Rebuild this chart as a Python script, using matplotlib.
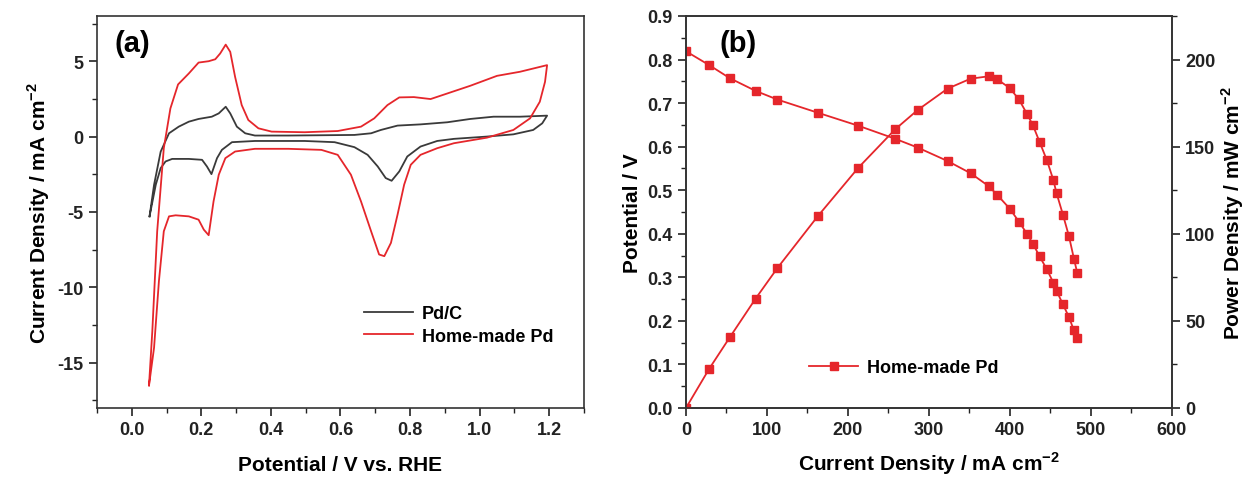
import matplotlib.pyplot as plt
from matplotlib.ticker import MultipleLocator

plt.rcParams['font.family'] = ['Liberation Sans', 'DejaVu Sans']
plt.rcParams['font.weight'] = 'bold'
plt.rcParams['axes.labelweight'] = 'bold'
plt.rcParams['axes.unicode_minus'] = False
plt.rcParams['mathtext.fontset'] = 'custom'
plt.rcParams['mathtext.rm'] = 'Liberation Sans:bold'
plt.rcParams['mathtext.bf'] = 'Liberation Sans:bold'

# (a) CV curves: potential (V vs RHE) and current density (mA cm-2), one full cycle each
pdc_v = [0.051, 0.064, 0.083, 0.107, 0.135, 0.164, 0.192, 0.23, 0.25, 0.27, 0.283, 0.302,
         0.326, 0.354, 0.45, 0.545, 0.64, 0.688, 0.716, 0.764, 0.83, 0.907, 0.973, 1.04,
         1.116, 1.194, 1.18, 1.154, 1.097, 1.02, 0.926, 0.878, 0.83, 0.792, 0.769, 0.747,
         0.73, 0.707, 0.678, 0.64, 0.583, 0.497, 0.354, 0.288, 0.259, 0.245, 0.229, 0.216,
         0.202, 0.164, 0.116, 0.097, 0.083, 0.069, 0.051]
pdc_i = [-5.29, -3.2, -1.0, 0.22, 0.66, 0.99, 1.17, 1.32, 1.54, 1.98, 1.54, 0.66,
         0.22, 0.07, 0.07, 0.09, 0.11, 0.22, 0.44, 0.73, 0.81, 0.95, 1.17, 1.32,
         1.32, 1.39, 0.88, 0.44, 0.15, 0.0, -0.15, -0.29, -0.66, -1.32, -2.31, -2.93,
         -2.75, -1.98, -1.21, -0.70, -0.37, -0.29, -0.29, -0.37, -0.88, -1.43, -2.49, -1.98,
         -1.54, -1.48, -1.48, -1.65, -2.09, -3.19, -5.29]

home_v = [0.0495, 0.059, 0.073, 0.092, 0.111, 0.133, 0.164, 0.192, 0.221, 0.24, 0.254, 0.27,
          0.283, 0.297, 0.316, 0.335, 0.364, 0.402, 0.497, 0.592, 0.659, 0.697, 0.735, 0.769,
          0.811, 0.859, 0.907, 0.973, 1.05, 1.116, 1.194, 1.188, 1.173, 1.145, 1.097, 1.021,
          0.926, 0.878, 0.83, 0.802, 0.783, 0.764, 0.745, 0.726, 0.711, 0.688, 0.659, 0.63,
          0.592, 0.545, 0.45, 0.354, 0.297, 0.269, 0.25, 0.235, 0.221, 0.207, 0.192, 0.164,
          0.126, 0.107, 0.092, 0.078, 0.064, 0.0495]
home_i = [-16.5, -12.9, -6.28, -0.77, 1.87, 3.46, 4.19, 4.91, 5.0, 5.13, 5.51, 6.10,
          5.62, 3.96, 2.09, 1.10, 0.55, 0.33, 0.29, 0.37, 0.66, 1.21, 2.09, 2.60,
          2.62, 2.49, 2.86, 3.37, 4.03, 4.30, 4.74, 3.63, 2.31, 1.21, 0.44, -0.07,
          -0.44, -0.77, -1.21, -1.87, -3.19, -5.18, -7.05, -7.93, -7.82, -6.28, -4.30, -2.53,
          -1.21, -0.88, -0.81, -0.81, -0.99, -1.43, -2.53, -4.30, -6.54, -6.17, -5.51, -5.29,
          -5.22, -5.29, -6.28, -9.58, -14.0, -16.5]

# (b) polarisation and power density curves
cur_dens = [0, 28.8, 54.3, 86, 113, 162.6, 212.8, 258.4, 286, 323, 351.4, 374, 384.4,
            399.6, 411, 421.4, 428.4, 436.6, 445.7, 453.5, 457.6, 465.4, 472.8, 479, 483]
potential = [0.819, 0.787, 0.757, 0.728, 0.708, 0.678, 0.648, 0.618, 0.598, 0.567, 0.539,
             0.509, 0.489, 0.458, 0.428, 0.399, 0.377, 0.348, 0.318, 0.288, 0.269, 0.238,
             0.209, 0.178, 0.161]
power = [0, 22.6, 40.7, 62.8, 80.4, 110, 137.9, 160, 171, 183.3, 189, 190.4, 188.6,
         183.7, 177.2, 168.5, 162.2, 152.7, 142.1, 131, 123.2, 111, 98.7, 85.7, 77.7]

red = '#e5262b'
dark = '#3a3a3a'

fig = plt.figure(figsize=(12.47, 4.81), dpi=100)
ax1 = fig.add_axes([0.0778, 0.1497, 0.3905, 0.815])
ax2 = fig.add_axes([0.5501, 0.1497, 0.3897, 0.815])

ax1.plot(pdc_v, pdc_i, color=dark, lw=1.3, label='Pd/C')
ax1.plot(home_v, home_i, color=red, lw=1.3, label='Home-made Pd')
ax1.set_xlim(-0.1, 1.3)
ax1.set_ylim(-18, 8)
ax1.xaxis.set_minor_locator(MultipleLocator(0.1))
ax1.yaxis.set_major_locator(MultipleLocator(5))
ax1.yaxis.set_minor_locator(MultipleLocator(2.5))
ax1.set_xticks([0, 0.2, 0.4, 0.6, 0.8, 1.0, 1.2])
ax1.set_xlabel('Potential / V vs. RHE', fontsize=15, labelpad=12)
ax1.set_ylabel('Current Density / mA cm$^{-2}$', fontsize=15, labelpad=4)
ax1.text(0.035, 0.93, '(a)', transform=ax1.transAxes, fontsize=21, va='center')
ax1.legend(loc='lower right', bbox_to_anchor=(0.97, 0.12), frameon=False, fontsize=13,
           handlelength=2.7, handletextpad=0.5, labelspacing=0.3)

ax2.plot(cur_dens, potential, color=red, lw=1.3, marker='s', ms=5.5, label='Home-made Pd')
ax2.set_xlim(0, 600)
ax2.set_ylim(0, 0.9)
ax2.xaxis.set_major_locator(MultipleLocator(100))
ax2.xaxis.set_minor_locator(MultipleLocator(50))
ax2.yaxis.set_major_locator(MultipleLocator(0.1))
ax2.yaxis.set_minor_locator(MultipleLocator(0.05))
ax2.set_xlabel('Current Density / mA cm$^{-2}$', fontsize=15, labelpad=8)
ax2.set_ylabel('Potential / V', fontsize=15, labelpad=4)
ax2.text(0.07, 0.93, '(b)', transform=ax2.transAxes, fontsize=21, va='center')
ax2.legend(loc='lower left', bbox_to_anchor=(0.22, 0.04), frameon=False, fontsize=13,
           handlelength=2.7, handletextpad=0.5)

ax3 = ax2.twinx()
ax3.plot(cur_dens, power, color=red, lw=1.3, marker='s', ms=5.5)
ax3.set_ylim(0, 225)
ax3.yaxis.set_major_locator(MultipleLocator(50))
ax3.yaxis.set_minor_locator(MultipleLocator(25))
ax3.set_ylabel('Power Density / mW cm$^{-2}$', fontsize=15, labelpad=3)

for ax in (ax1, ax2, ax3):
    for s in ax.spines.values():
        s.set_color('#333333')
        s.set_linewidth(1.2)
    ax.tick_params(which='major', direction='out', length=6, width=1.2, labelsize=13, colors='#222222')
    ax.tick_params(which='minor', direction='out', length=3.5, width=1.0, colors='#222222')

ax1.tick_params(top=False, right=False, which='both')
ax2.tick_params(top=False, right=False, which='both')
ax3.tick_params(axis='y', which='both', right=True, left=False)

plt.savefig('out.png', dpi=100)
